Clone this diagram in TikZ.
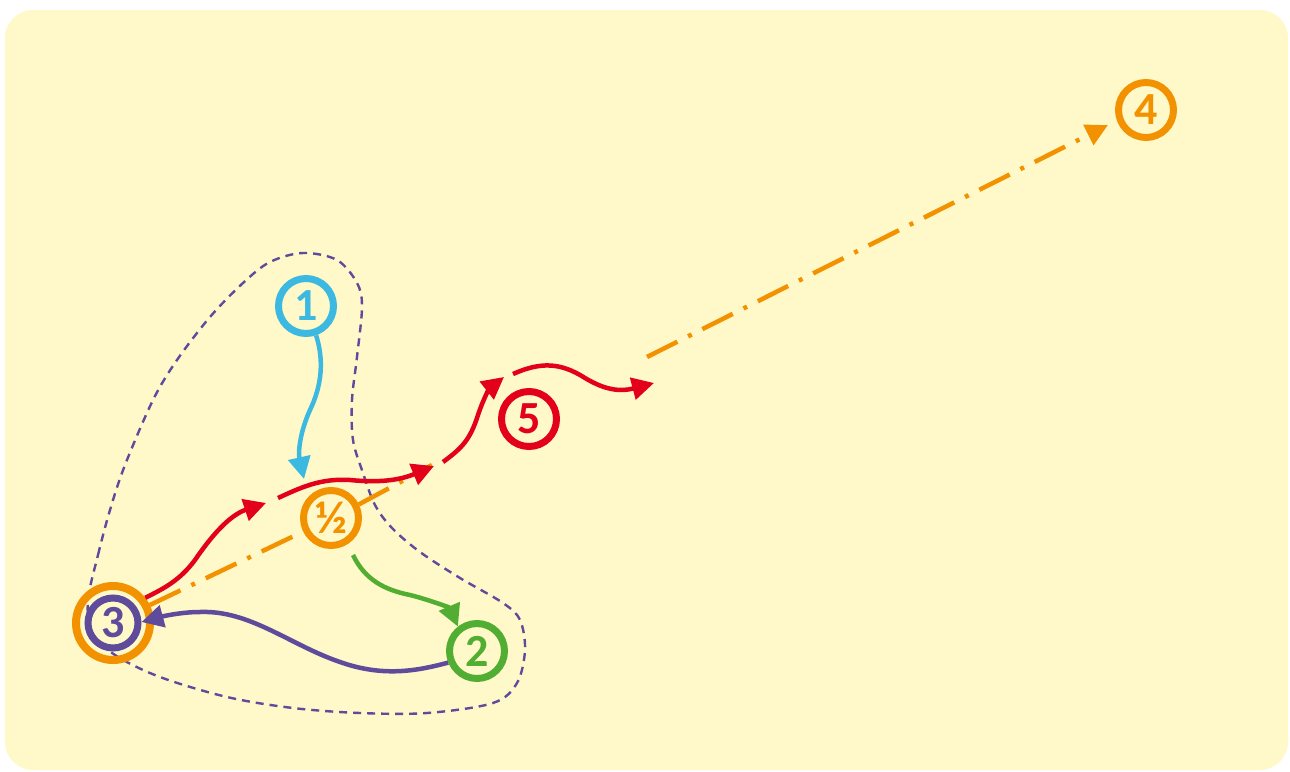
\documentclass[tikz,border=0pt]{standalone}
\usepackage{fontspec}
\setmainfont{Carlito}
\usetikzlibrary{arrows.meta}
\definecolor{bgy}{HTML}{FFF8C8}
\definecolor{cor}{HTML}{F39200}
\definecolor{cbl}{HTML}{3BB9E1}
\definecolor{cgr}{HTML}{52AE32}
\definecolor{cre}{HTML}{E2001A}
\definecolor{cpu}{HTML}{5F4B9B}
\tikzset{
  ring/.style={circle, draw=#1, text=#1, line width=7pt, inner sep=0pt, minimum size=55pt,
    font=\fontsize{46}{46}\selectfont\bfseries},
  tip/.style={-{Triangle[length=22pt,width=22pt]}},
  arr/.style={line width=4.5pt, draw=#1, tip},
  dashdot/.style={line width=4.5pt, draw=cor, dash pattern=on 34pt off 12pt on 4pt off 12pt},
  loopline/.style={line width=2.4pt, draw=cpu, dash pattern=on 8pt off 6pt},
}
\begin{document}
\begin{tikzpicture}[x=1pt,y=-1pt]
\useasboundingbox (0,0) rectangle (1290,771);
\fill[bgy, rounded corners=28pt] (5,10) rectangle (1288,770);

% dashed loop
\draw[loopline] plot[smooth cycle, tension=0.55] coordinates {
 (88,600) (98,555) (110,510) (125,465) (153,400) (177,360) (210,317) (243,283)
 (270,262) (303,253) (337,260) (357,283) (362,307) (357,357) (352,400) (353,440)
 (363,473) (375,505) (392,528) (420,552) (460,578) (503,603) (520,620) (525,650)
 (517,683) (493,703) (427,713) (360,713) (293,708) (227,697) (160,677) (115,655) (92,632)};

% nodes
\node[ring=cbl] (n1) at (306,306) {1};
\node[ring=cor] (nh) at (331,518) {½};
\node[ring=cgr] (n2) at (477,651) {2};
\node[ring=cre] (n5) at (529,419) {5};
\node[ring=cor] (n4) at (1146,110) {4};
\node[circle, draw=cor, line width=8pt, inner sep=0pt, minimum size=74pt] (n3o) at (113,623) {};
\node[ring=cpu, minimum size=50pt] (n3) at (113,623) {3};

% free ends
\coordinate (bt) at (304,479);
\coordinate (gs) at (353,555);
\coordinate (oa) at (432,465);
\coordinate (ob) at (647,357);
\coordinate (r1) at (266,503);
\coordinate (r2s) at (278,498);
\coordinate (r2) at (434,466);
\coordinate (r3s) at (443,462);
\coordinate (r3) at (504,377);
\coordinate (r4s) at (513,374);
\coordinate (r4) at (654,383);

% orange dash-dot
\draw[dashdot] (n3o.26) -- (nh.206);
\draw[dashdot] (nh.26) -- (oa);
\draw[dashdot, tip, shorten >=10pt] (ob) -- (n4.200);

% blue
\draw[arr=cbl] (n1.-71) .. controls (324,360) and (322,385) .. (310,410)
   .. controls (300,432) and (298,452) .. (bt);
% green
\draw[arr=cgr] (gs) .. controls (365,580) and (385,590) .. (410,595)
   .. controls (430,600) and (450,608) .. (n2.128);
% purple
\draw[arr=cpu] (n2.202) .. controls (420,670) and (385,678) .. (340,662)
   .. controls (290,645) and (250,610) .. (200,612)
   .. controls (180,612) and (160,617) .. (n3.2);
% red
\draw[arr=cre] (n3o.38) .. controls (165,588) and (180,580) .. (195,560)
   .. controls (212,535) and (230,515) .. (r1);
\draw[arr=cre] (r2s) .. controls (300,488) and (320,478) .. (350,480)
   .. controls (380,483) and (400,480) .. (r2);
\draw[arr=cre] (r3s) .. controls (462,448) and (470,440) .. (478,415)
   .. controls (484,397) and (490,388) .. (r3);
\draw[arr=cre] (r4s) .. controls (540,362) and (560,362) .. (585,378)
   .. controls (605,390) and (620,392) .. (r4);
\end{tikzpicture}
\end{document}
